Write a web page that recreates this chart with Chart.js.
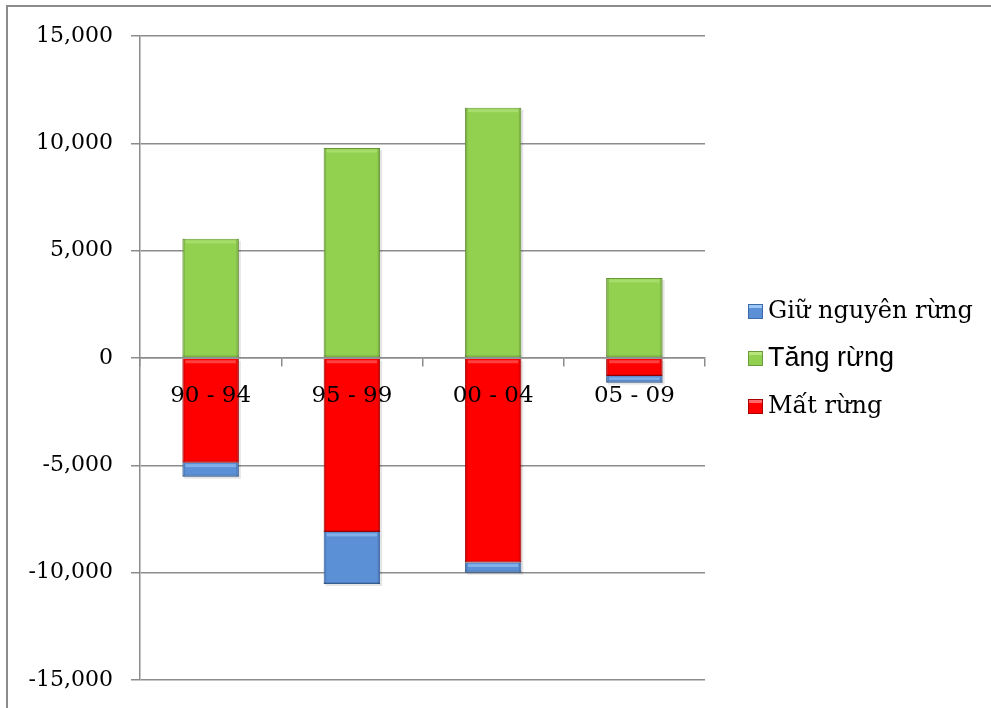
<!DOCTYPE html>
<html>
<head>
<meta charset="utf-8">
<script src="https://cdn.jsdelivr.net/npm/chart.js@4.4.0/dist/chart.umd.min.js"></script>
<style>
  html, body { margin: 0; padding: 0; background: #fff; overflow: hidden; }
  #frame { position: absolute; left: 6px; top: 5px; width: 2000px; height: 2000px;
           border-left: 2px solid #8c8c8c; border-top: 2px solid #8c8c8c; }
  #myChart { position: absolute; left: 0; top: 0; }
</style>
</head>
<body>
<div id="frame"></div>
<canvas id="myChart" width="991" height="708"></canvas>
<script>
const categories = ['90 - 94', '95 - 99', '00 - 04', '05 - 09'];
const matRung = [-4875, -8100, -9530, -840];
const tangRung = [5550, 9780, 11660, 3730];
const giuNguyen = [-655, -2430, -470, -310];
const yTicks = [-15000, -10000, -5000, 0, 5000, 10000, 15000];

const serif = "'DejaVu Serif', serif";
const lightEdge = ['#ff6a6a', '#b6e67c', '#9cc8f5'];

// soft shadow under the bars
const barShadow = {
  id: 'barShadow',
  beforeDatasetsDraw(chart) {
    const ctx = chart.ctx;
    ctx.save();
    ctx.fillStyle = 'rgba(0,0,0,0.10)';
    chart.data.datasets.forEach((ds, i) => {
      chart.getDatasetMeta(i).data.forEach(bar => {
        const top = Math.min(bar.y, bar.base), h = Math.abs(bar.y - bar.base);
        ctx.fillRect(bar.x - bar.width / 2 + 2, top + 2, bar.width, h);
      });
    });
    ctx.restore();
  },
  // bevel: light band along the top, slightly darker sides
  afterDatasetsDraw(chart) {
    const ctx = chart.ctx;
    ctx.save();
    chart.data.datasets.forEach((ds, i) => {
      chart.getDatasetMeta(i).data.forEach(bar => {
        const top = Math.min(bar.y, bar.base), h = Math.abs(bar.y - bar.base);
        const l = bar.x - bar.width / 2, w = bar.width;
        if (h < 4) return;
        ctx.fillStyle = lightEdge[i];
        ctx.globalAlpha = 0.6;
        ctx.fillRect(l + 3, top + 1.5, w - 6, Math.min(3, h / 3));
        ctx.globalAlpha = 0.12;
        ctx.fillStyle = '#000';
        ctx.fillRect(l + 0.5, top, 2, h);
        ctx.fillRect(l + w - 2.5, top, 2, h);
        ctx.fillRect(l, top + h - 2, w, 2);
        ctx.globalAlpha = 1;
      });
    });
    ctx.restore();
  }
};

// legend drawn by hand: one label uses a different font, like the original
const sideLegend = {
  id: 'sideLegend',
  afterDraw(chart) {
    const ctx = chart.ctx;
    const items = [
      { ds: 2, font: "24px " + serif },
      { ds: 1, font: "27px 'Liberation Sans', Arial, sans-serif" },
      { ds: 0, font: "24px " + serif }
    ];
    const rows = [312, 359, 407];
    ctx.save();
    items.forEach((it, i) => {
      const ds = chart.data.datasets[it.ds];
      const y = rows[i];
      ctx.fillStyle = ds.backgroundColor;
      ctx.fillRect(748, y - 8, 15, 15);
      ctx.fillStyle = lightEdge[it.ds];
      ctx.fillRect(749, y - 7, 13, 3);
      ctx.strokeStyle = ds.borderColor;
      ctx.lineWidth = 1;
      ctx.strokeRect(748.5, y - 7.5, 14, 14);
      ctx.fillStyle = '#000';
      ctx.font = it.font;
      ctx.textBaseline = 'middle';
      ctx.fillText(ds.label, 768, y);
    });
    ctx.restore();
  }
};

const ctx = document.getElementById('myChart').getContext('2d');

new Chart(ctx, {
  type: 'bar',
  data: {
    labels: categories,
    datasets: [
      { label: 'Mất rừng', data: matRung, backgroundColor: '#ff0000', borderColor: '#a80000', borderWidth: 1 },
      { label: 'Tăng rừng', data: tangRung, backgroundColor: '#92d050', borderColor: '#6a9a3a', borderWidth: 1 },
      { label: 'Giữ nguyên rừng', data: giuNguyen, backgroundColor: '#5b8fd6', borderColor: '#3d6aa8', borderWidth: 1 }
    ]
  },
  options: {
    responsive: false,
    animation: false,
    layout: { padding: { left: 0, right: 286, top: 36, bottom: 28 } },
    datasets: { bar: { categoryPercentage: 1, barPercentage: 0.4 } },
    scales: {
      x: {
        stacked: true,
        position: { y: 0 },
        grid: { drawOnChartArea: false, offset: true, tickLength: 8, color: '#8c8c8c', lineWidth: 1.5, z: 1 },
        border: { color: '#8c8c8c', width: 1.5, z: 1 },
        ticks: { color: '#000', padding: 16, z: 1, font: { family: serif, size: 23 } }
      },
      y: {
        stacked: true,
        min: -15000,
        max: 15000,
        afterBuildTicks: (scale) => { scale.ticks = yTicks.map(v => ({ value: v })); },
        afterFit: (scale) => {
          scale.width = 140;
          scale.paddingTop = 0;
          scale.paddingBottom = 0;
        },
        grid: { color: '#8c8c8c', lineWidth: 1.5, tickLength: 9 },
        border: { color: '#8c8c8c', width: 1.5 },
        ticks: {
          color: '#000',
          padding: 18,
          font: { family: serif, size: 22 },
          callback: (v) => Number(v).toLocaleString('en-US')
        }
      }
    },
    plugins: {
      legend: { display: false },
      tooltip: { enabled: false }
    }
  },
  plugins: [barShadow, sideLegend]
});
</script>
</body>
</html>
